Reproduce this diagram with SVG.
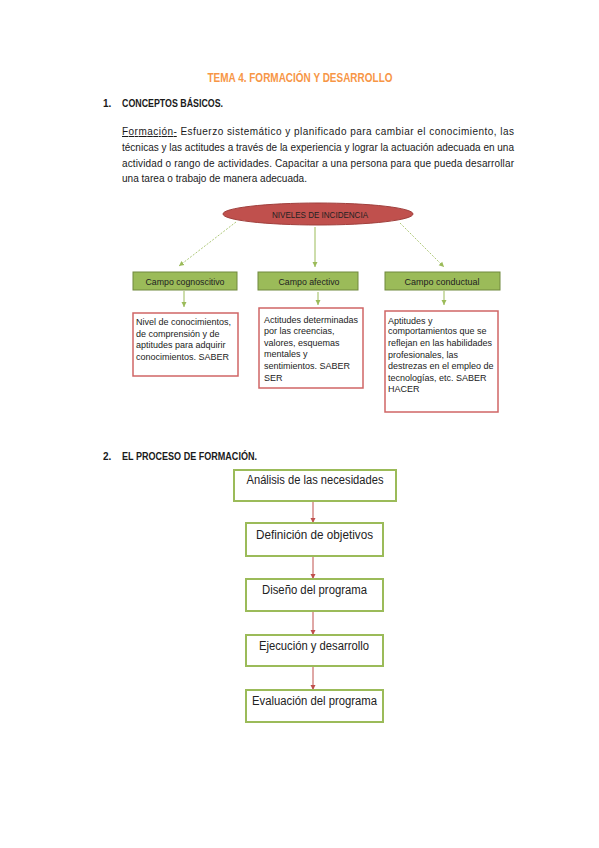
<svg xmlns="http://www.w3.org/2000/svg" width="599" height="848" viewBox="0 0 599 848">
<defs>
<style>
text{font-family:"Liberation Sans",Arial,sans-serif;fill:#1a1a1a}
.title{font-size:12.5px;font-weight:bold;fill:#F79646}
.h{font-size:10px;font-weight:bold}
.p{font-size:10px}
.lvl{font-size:9.5px;fill:#222}
.small{font-size:9px;fill:#222}
.step{font-size:12.5px;fill:#222}
.gbox{fill:#9BBB59;stroke:#71893F;stroke-width:1}
.rbox{fill:#fff;stroke:#D06565;stroke-width:1.5}
.pbox{fill:#fff;stroke:#9BBB59;stroke-width:2}
.ga{stroke:#9BBB59;stroke-width:1;fill:none}
.gd{stroke:#AFC97A;stroke-width:1;fill:none;stroke-dasharray:2 1.5}
.ra{stroke:#C0504D;stroke-width:1;fill:none}
</style>
<marker id="mg" markerWidth="6" markerHeight="6" refX="5" refY="3" orient="auto" markerUnits="userSpaceOnUse">
<path d="M0,0.5 L5,3 L0,5.5 Z" fill="#9BBB59"/>
</marker>
<marker id="mr" markerWidth="6" markerHeight="6" refX="5" refY="3" orient="auto" markerUnits="userSpaceOnUse">
<path d="M0,0.5 L5,3 L0,5.5 Z" fill="#C0504D"/>
</marker>
</defs>
<rect width="599" height="848" fill="#fff"/>

<text class="title" x="300" y="82" text-anchor="middle" textLength="185" lengthAdjust="spacingAndGlyphs">TEMA 4. FORMACIÓN Y DESARROLLO</text>

<text class="h" x="103" y="107">1.</text>
<text class="h" x="122" y="107" textLength="101" lengthAdjust="spacingAndGlyphs">CONCEPTOS BÁSICOS.</text>

<text class="p" x="122" y="135" textLength="392" lengthAdjust="spacing"><tspan text-decoration="underline">Formación-</tspan> Esfuerzo sistemático y planificado para cambiar el conocimiento, las</text>
<text class="p" x="122" y="151" textLength="392" lengthAdjust="spacingAndGlyphs">técnicas y las actitudes a través de la experiencia y lograr la actuación adecuada en una</text>
<text class="p" x="122" y="167" textLength="392" lengthAdjust="spacing">actividad o rango de actividades. Capacitar a una persona para que pueda desarrollar</text>
<text class="p" x="122" y="182" textLength="185" lengthAdjust="spacingAndGlyphs">una tarea o trabajo de manera adecuada.</text>

<g id="connectors">
<line class="gd" x1="236" y1="222" x2="179" y2="266" marker-end="url(#mg)"/>
<line class="ga" x1="315" y1="227" x2="315" y2="267" marker-end="url(#mg)"/>
<line class="gd" x1="400" y1="223" x2="444" y2="267" marker-end="url(#mg)"/>
<line class="ga" x1="184" y1="291" x2="184" y2="307" marker-end="url(#mg)"/>
<line class="ga" x1="318" y1="292" x2="318" y2="305" marker-end="url(#mg)"/>
<line class="ga" x1="444" y1="291" x2="444" y2="305" marker-end="url(#mg)"/>
<line class="ra" x1="313" y1="501" x2="313" y2="523" marker-end="url(#mr)"/>
<line class="ra" x1="313" y1="556" x2="313" y2="579" marker-end="url(#mr)"/>
<line class="ra" x1="313" y1="611" x2="313" y2="635" marker-end="url(#mr)"/>
<line class="ra" x1="313" y1="666" x2="313" y2="690" marker-end="url(#mr)"/>
</g>

<g id="niveles">
<ellipse cx="318" cy="214" rx="95" ry="11" fill="#C0504D" stroke="#A0403D" stroke-width="1"/>
<text class="lvl" x="320" y="217.5" text-anchor="middle" textLength="96" lengthAdjust="spacingAndGlyphs">NIVELES DE INCIDENCIA</text>
</g>

<g id="cognoscitivo">
<rect class="gbox" x="133" y="272" width="104" height="18"/>
<text class="lvl" x="185" y="284.5" text-anchor="middle" textLength="79" lengthAdjust="spacingAndGlyphs">Campo cognoscitivo</text>
</g>
<g id="afectivo">
<rect class="gbox" x="258" y="272" width="100" height="18"/>
<text class="lvl" x="309" y="284.5" text-anchor="middle" textLength="61" lengthAdjust="spacingAndGlyphs">Campo afectivo</text>
</g>
<g id="conductual">
<rect class="gbox" x="385" y="272" width="115" height="18"/>
<text class="lvl" x="442" y="284.5" text-anchor="middle" textLength="75" lengthAdjust="spacingAndGlyphs">Campo conductual</text>
</g>

<g id="saber">
<rect class="rbox" x="133" y="313" width="105" height="63"/>
<text class="small" x="136" y="325">Nivel de conocimientos,</text>
<text class="small" x="136" y="337">de comprensión y de</text>
<text class="small" x="136" y="348">aptitudes para adquirir</text>
<text class="small" x="136" y="360">conocimientos. SABER</text>
</g>
<g id="saber-ser">
<rect class="rbox" x="259" y="308" width="104" height="80"/>
<text class="small" x="264" y="323">Actitudes determinadas</text>
<text class="small" x="264" y="334">por las creencias,</text>
<text class="small" x="264" y="346">valores, esquemas</text>
<text class="small" x="264" y="357">mentales y</text>
<text class="small" x="264" y="369">sentimientos. SABER</text>
<text class="small" x="264" y="381">SER</text>
</g>
<g id="saber-hacer">
<rect class="rbox" x="385" y="311" width="113" height="101"/>
<text class="small" x="388" y="324">Aptitudes y</text>
<text class="small" x="388" y="334">comportamientos que se</text>
<text class="small" x="388" y="346">reflejan en las habilidades</text>
<text class="small" x="388" y="358">profesionales, las</text>
<text class="small" x="388" y="369">destrezas en el empleo de</text>
<text class="small" x="388" y="381">tecnologías, etc. SABER</text>
<text class="small" x="388" y="392">HACER</text>
</g>

<text class="h" x="103" y="460">2.</text>
<text class="h" x="122" y="460" textLength="135" lengthAdjust="spacingAndGlyphs">EL PROCESO DE FORMACIÓN.</text>

<g id="analisis">
<rect class="pbox" x="234" y="470" width="162" height="31"/>
<text class="step" x="315" y="484" text-anchor="middle" textLength="137" lengthAdjust="spacingAndGlyphs">Análisis de las necesidades</text>
</g>
<g id="definicion">
<rect class="pbox" x="246" y="523" width="137" height="33"/>
<text class="step" x="314.5" y="539" text-anchor="middle" textLength="117" lengthAdjust="spacingAndGlyphs">Definición de objetivos</text>
</g>
<g id="diseno">
<rect class="pbox" x="246" y="579" width="137" height="32"/>
<text class="step" x="314.5" y="594" text-anchor="middle" textLength="105" lengthAdjust="spacingAndGlyphs">Diseño del programa</text>
</g>
<g id="ejecucion">
<rect class="pbox" x="246" y="635" width="137" height="31"/>
<text class="step" x="314" y="650" text-anchor="middle" textLength="110" lengthAdjust="spacingAndGlyphs">Ejecución y desarrollo</text>
</g>
<g id="evaluacion">
<rect class="pbox" x="246" y="690" width="137" height="32"/>
<text class="step" x="314.5" y="705" text-anchor="middle" textLength="125" lengthAdjust="spacingAndGlyphs">Evaluación del programa</text>
</g>
</svg>
